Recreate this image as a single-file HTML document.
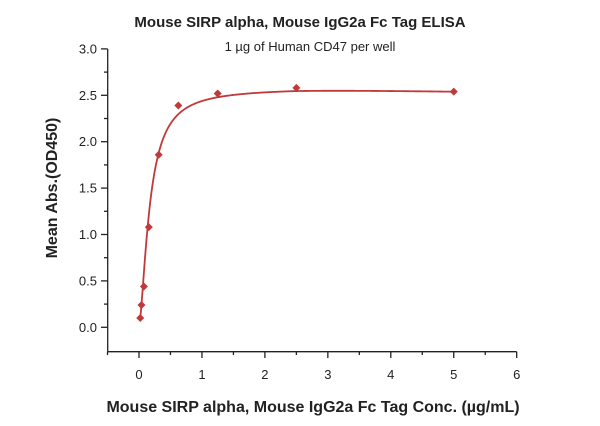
<!DOCTYPE html>
<html><head><meta charset="utf-8"><style>
body{margin:0;background:#fff;}
svg text{font-family:"Liberation Sans",sans-serif;}
</style></head><body>
<svg id="s" width="600" height="421" xmlns="http://www.w3.org/2000/svg">
<text x="300" y="27" text-anchor="middle" font-size="15" font-weight="bold" fill="#222">Mouse SIRP alpha, Mouse IgG2a Fc Tag ELISA</text>
<text x="310" y="51" text-anchor="middle" font-size="13" fill="#222">1 µg of Human CD47 per well</text>
<text x="313" y="412" text-anchor="middle" font-size="16" font-weight="bold" fill="#222">Mouse SIRP alpha, Mouse IgG2a Fc Tag Conc. (µg/mL)</text>
<text transform="translate(57,188) rotate(-90)" text-anchor="middle" font-size="16" font-weight="bold" fill="#222">Mean Abs.(OD450)</text>
<g id="ax" stroke="#222" stroke-width="1.3" fill="none"></g>
<g id="lb" font-size="13" fill="#222"></g>
<path id="cv" fill="none" stroke="#c0393b" stroke-width="1.8"/>
<g id="pt" fill="#c0393b"></g>
</svg>
<script>
const X=v=>139+v*62.95, Y=v=>327.3-v*92.8;
let ax=document.getElementById('ax'),lb=document.getElementById('lb'),s='';
s+=`<line x1="107.7" y1="49" x2="107.7" y2="351.7"/><line x1="107.7" y1="351.7" x2="516.7" y2="351.7"/>`;
let l='';
for(let i=0;i<=6;i++){let y=Y(i*0.5);s+=`<line x1="101" y1="${y}" x2="107.7" y2="${y}"/>`;
 if(i<6)s+=`<line x1="104" y1="${Y(i*0.5+0.25)}" x2="107.7" y2="${Y(i*0.5+0.25)}"/>`;
 l+=`<text x="97" y="${y+4.5}" text-anchor="end">${(i*0.5).toFixed(1)}</text>`;}
for(let i=0;i<=6;i++){let x=X(i);s+=`<line x1="${x}" y1="351.7" x2="${x}" y2="358"/>`;
 if(i<6)s+=`<line x1="${X(i+0.5)}" y1="351.7" x2="${X(i+0.5)}" y2="355"/>`;
 l+=`<text x="${x}" y="379" text-anchor="middle">${i}</text>`;}
s+=`<line x1="${X(-0.5)}" y1="351.7" x2="${X(-0.5)}" y2="355"/>`;
ax.innerHTML=s;lb.innerHTML=l;
let d='';
for(let i=0;i<=400;i++){let x=0.0195+(5-0.0195)*Math.pow(i/400,2);
 let y=0.02+2.56*Math.pow(x,1.6)/(Math.pow(x,1.6)+Math.pow(0.17,1.6));
 if(x>2.5)y-=0.012*(x-2.5);
 d+=(i?'L':'M')+X(x).toFixed(2)+','+Y(y).toFixed(2);}
document.getElementById('cv').setAttribute('d',d);
let P=[[0.0195,0.1],[0.039,0.24],[0.078,0.44],[0.156,1.08],[0.3125,1.86],[0.625,2.39],[1.25,2.52],[2.5,2.58],[5,2.54]],p='';
P.forEach(([a,b])=>{let x=X(a),y=Y(b);p+=`<polygon points="${x},${y-4} ${x+4},${y} ${x},${y+4} ${x-4},${y}"/>`;});
document.getElementById('pt').innerHTML=p;
</script>
</body></html>
